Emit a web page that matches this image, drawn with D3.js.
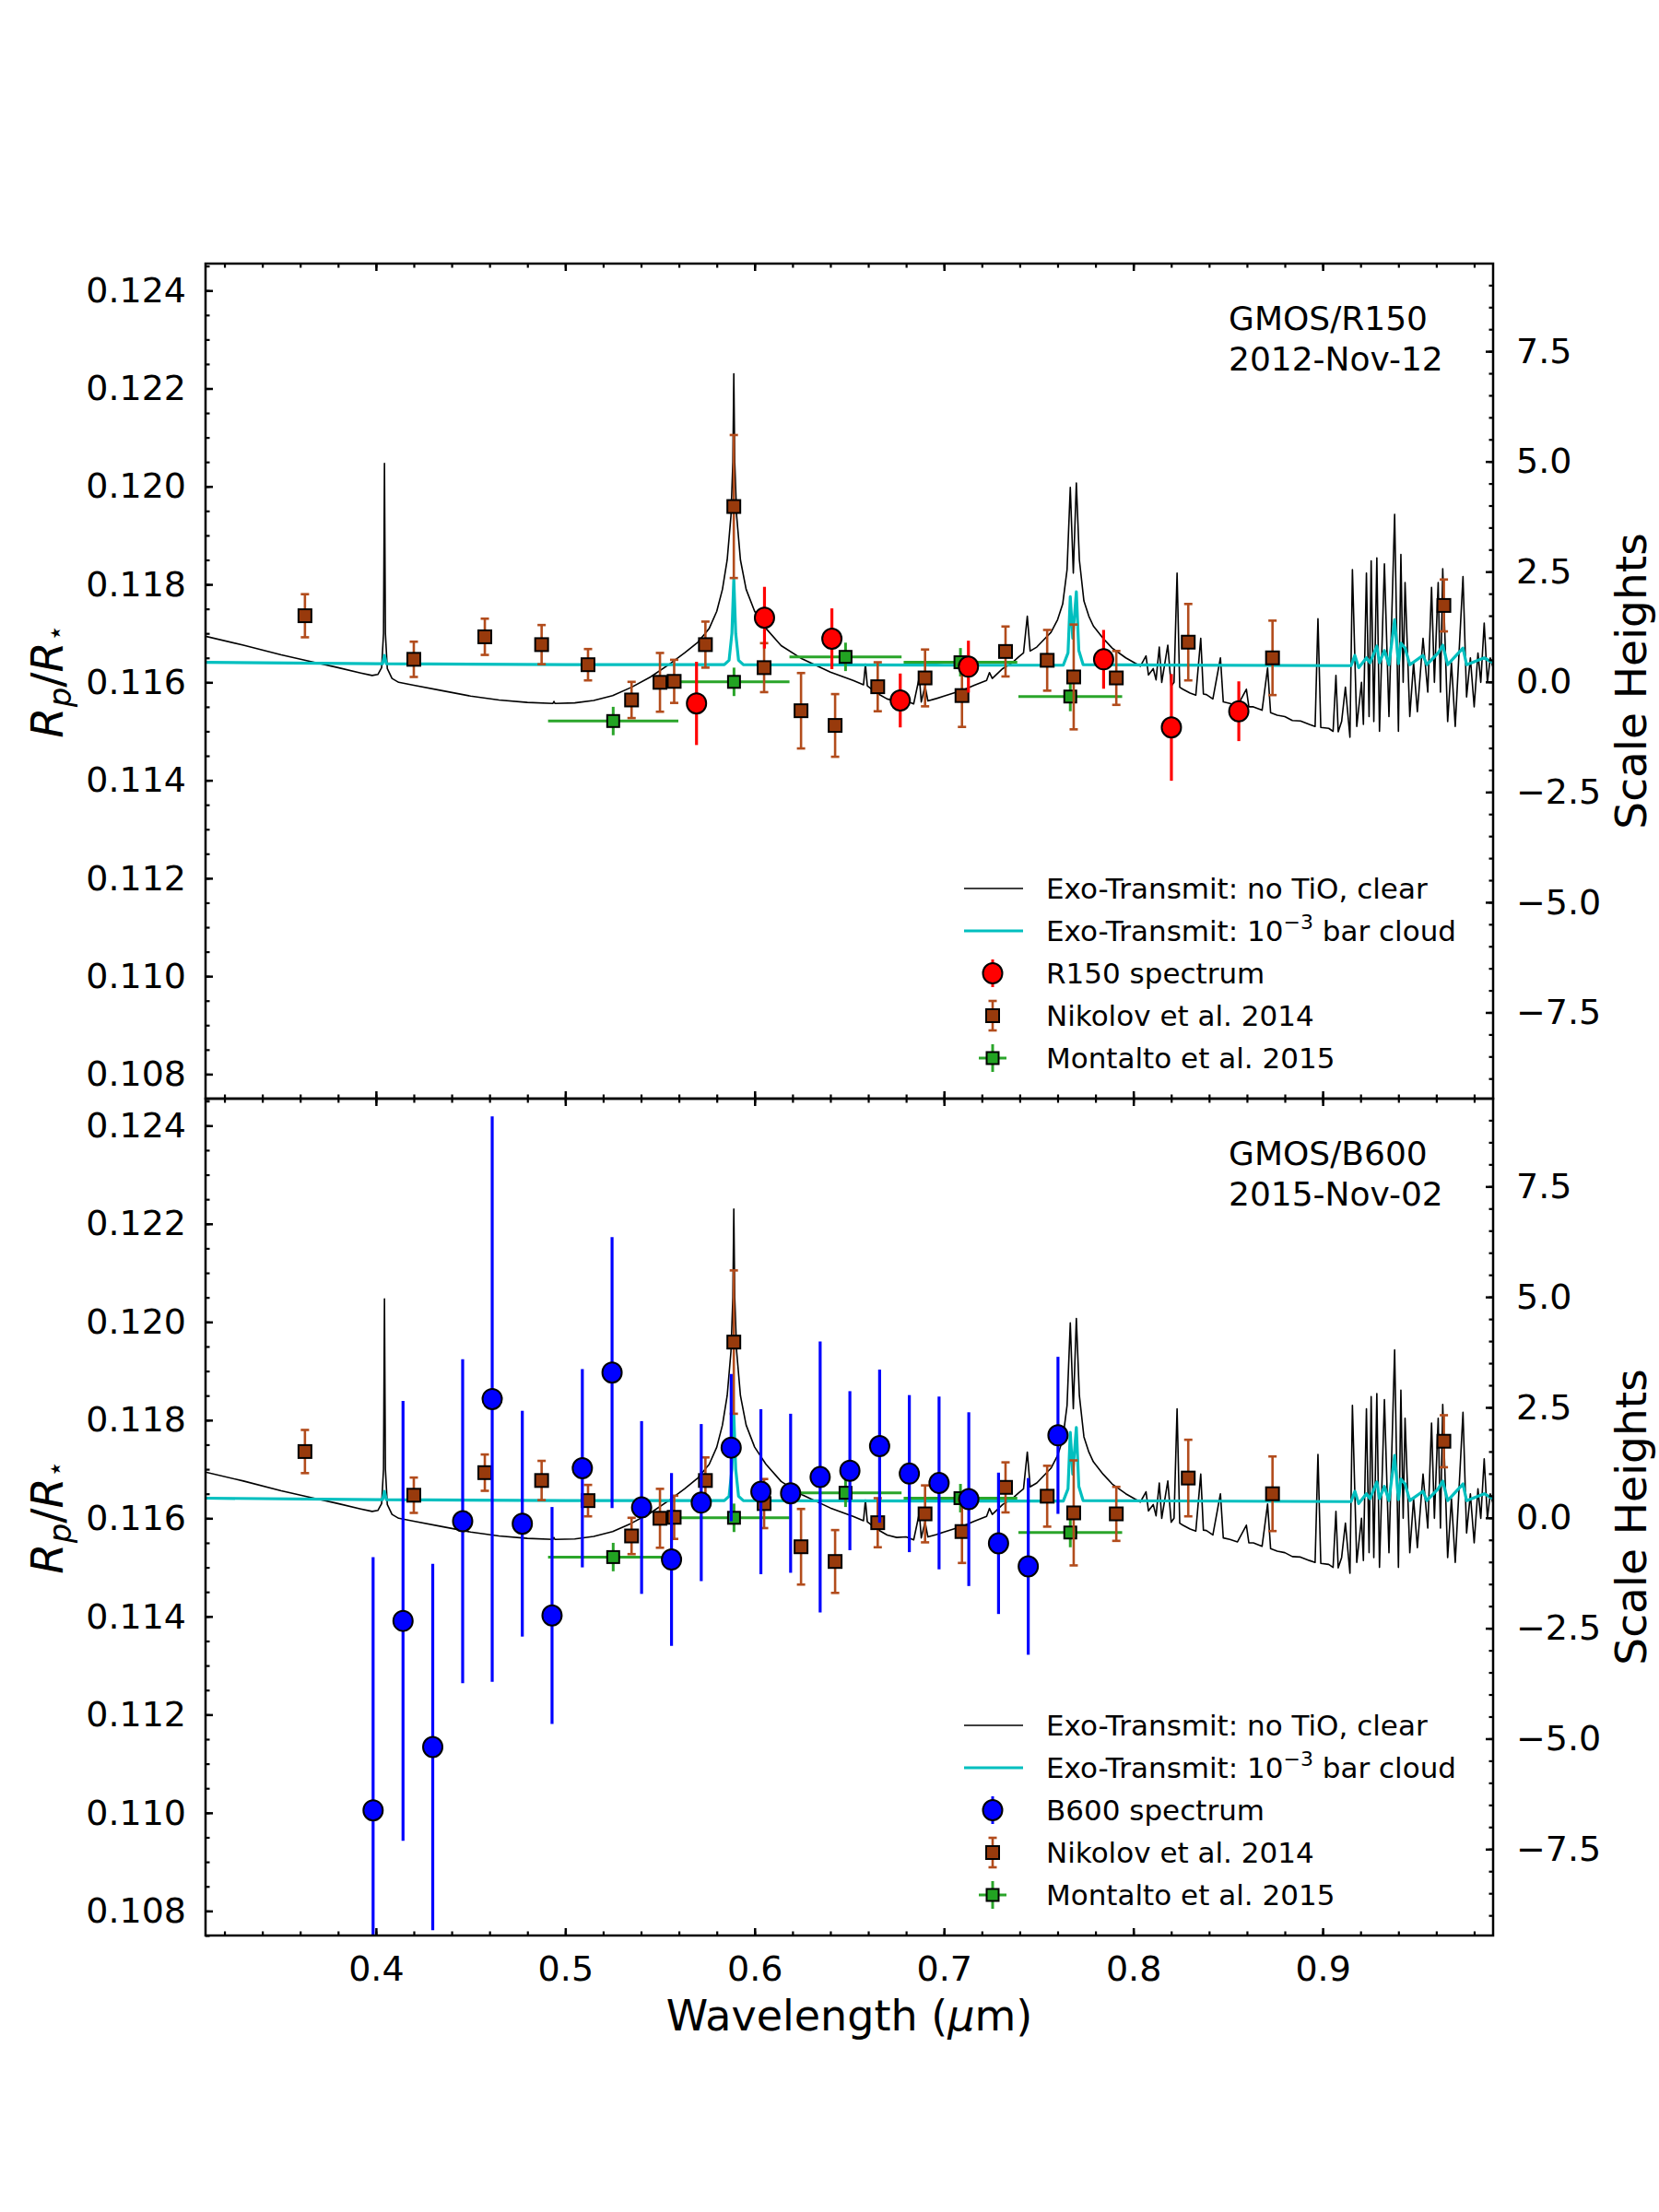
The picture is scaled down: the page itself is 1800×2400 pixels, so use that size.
<!DOCTYPE html>
<html>
<head>
<meta charset="utf-8">
<script src="https://cdn.jsdelivr.net/npm/d3@7"></script>
<style>
  body { margin: 0; background: #fff; }
  text { font-family: "DejaVu Sans", sans-serif; fill: #000; }
</style>
</head>
<body>
<svg id="chart"></svg>
<script>
// ---- data ----
// Exo-Transmit models, [wavelength (um), Rp/R*]
const clearModel = [
  [0.310,0.11694],[0.330,0.11676],[0.350,0.11656],[0.365,0.11643],[0.380,0.11630],[0.392,0.11619],
  [0.398,0.11614],[0.401,0.11616],[0.4030,0.11630],[0.4040,0.11700],[0.4045,0.12047],[0.4050,0.11700],
  [0.4060,0.11628],[0.4085,0.11608],[0.412,0.11600],[0.420,0.11594],[0.435,0.11583],[0.450,0.11572],
  [0.465,0.11564],[0.480,0.11559],[0.4935,0.11557],[0.4940,0.11561],[0.4945,0.11557],[0.505,0.11558],
  [0.515,0.11563],[0.525,0.11573],[0.535,0.11590],[0.545,0.11611],[0.555,0.11637],[0.563,0.11660],
  [0.570,0.11682],[0.576,0.11710],[0.580,0.11745],[0.583,0.11790],[0.5855,0.11850],[0.5875,0.11940],
  [0.5885,0.12050],[0.5890,0.12230],[0.5895,0.12050],[0.5905,0.11940],[0.5925,0.11850],[0.5955,0.11790],
  [0.600,0.11745],[0.606,0.11710],[0.614,0.11675],[0.625,0.11648],[0.640,0.11621],[0.652,0.11604],
  [0.6575,0.11595],[0.6585,0.11637],[0.6595,0.11593],[0.6645,0.11578],[0.670,0.11566],[0.675,0.11561],
  [0.680,0.11562],[0.684,0.11556],[0.687,0.11611],[0.688,0.11560],[0.690,0.11593],[0.6915,0.11562],
  [0.696,0.11567],[0.700,0.11572],[0.705,0.11578],[0.710,0.11584],[0.716,0.11594],[0.7225,0.11604],
  [0.7240,0.11620],[0.7255,0.11608],[0.731,0.11628],[0.736,0.11640],[0.7395,0.11652],[0.742,0.11660],
  [0.7440,0.11735],[0.7455,0.11664],[0.749,0.11672],[0.753,0.11688],[0.7565,0.11702],[0.760,0.11728],
  [0.7627,0.11760],[0.7650,0.11830],[0.7667,0.11998],[0.7683,0.11823],[0.7699,0.12007],[0.7715,0.11850],
  [0.7739,0.11766],[0.7765,0.11735],[0.7789,0.11715],[0.7840,0.11690],[0.7888,0.11670],[0.7960,0.11650],
  [0.8037,0.11633],[0.8067,0.11654],[0.8080,0.11615],[0.8105,0.11628],[0.8120,0.11605],[0.8137,0.11672],
  [0.8150,0.11600],[0.8182,0.11676],[0.8200,0.11592],[0.8215,0.11600],[0.8231,0.11823],[0.8245,0.11590],
  [0.8261,0.11586],[0.8300,0.11578],[0.8330,0.11574],[0.8356,0.11690],[0.8370,0.11576],[0.8386,0.11575],
  [0.8420,0.11566],[0.8460,0.11650],[0.8475,0.11560],[0.8510,0.11557],[0.8550,0.11552],[0.8597,0.11586],
  [0.8610,0.11550],[0.8634,0.11550],[0.8680,0.11543],[0.8709,0.11629],[0.8725,0.11538],[0.8760,0.11533],
  [0.8800,0.11530],[0.8840,0.11522],[0.8883,0.11521],[0.8930,0.11514],[0.8960,0.11510],[0.8975,0.11730],
  [0.8990,0.11508],[0.9032,0.11506],[0.9055,0.11500],[0.9070,0.11614],[0.9082,0.11499],[0.9100,0.11520],
  [0.9120,0.11590],[0.9144,0.11488],[0.9157,0.11830],[0.9180,0.11510],[0.9205,0.11600],[0.9215,0.11514],
  [0.9231,0.11823],[0.9245,0.11530],[0.9256,0.11848],[0.9270,0.11520],[0.9286,0.11854],[0.9300,0.11500],
  [0.9326,0.11842],[0.9350,0.11530],[0.9380,0.11943],[0.9400,0.11500],[0.9413,0.11861],[0.9425,0.11600],
  [0.9435,0.11804],[0.9460,0.11530],[0.9480,0.11640],[0.9500,0.11540],[0.9530,0.11690],[0.9555,0.11580],
  [0.9575,0.11794],[0.9590,0.11600],[0.9610,0.11804],[0.9622,0.11580],[0.9634,0.11832],[0.9660,0.11520],
  [0.9680,0.11640],[0.9700,0.11510],[0.9741,0.11816],[0.9760,0.11570],[0.9780,0.11650],[0.9800,0.11550],
  [0.9820,0.11660],[0.9835,0.11600],[0.9853,0.11721],[0.9870,0.11600],[0.9885,0.11650],[0.9900,0.11630]
];
const cloudModel = [
  [0.310,0.11641],[0.400,0.11638],[0.4035,0.11638],[0.4045,0.11655],[0.4055,0.11638],[0.500,0.11636],
  [0.584,0.11636],[0.5865,0.11645],[0.5880,0.11700],[0.5890,0.11811],[0.5900,0.11700],[0.5915,0.11645],
  [0.594,0.11636],[0.700,0.11635],[0.763,0.11635],[0.7655,0.11660],[0.7667,0.11775],[0.7680,0.11690],
  [0.7699,0.11785],[0.7712,0.11665],[0.7735,0.11636],[0.915,0.11634],[0.917,0.11655],[0.919,0.11630],
  [0.9231,0.11650],[0.925,0.11640],[0.9286,0.11674],[0.930,0.11640],[0.9326,0.11665],[0.935,0.11636],
  [0.938,0.11728],[0.940,0.11638],[0.9413,0.11680],[0.9435,0.11670],[0.946,0.11636],[0.953,0.11655],
  [0.955,0.11636],[0.961,0.11660],[0.9634,0.11676],[0.966,0.11636],[0.9741,0.11670],[0.976,0.11636],
  [0.9853,0.11650],[0.990,0.11640]
];

// GMOS R150 spectrum (2012-Nov-12)
const r150Wave = [0.5693, 0.6052, 0.6408, 0.6769, 0.7129, 0.7843, 0.8201, 0.8557];
const r150Rp   = [0.11557, 0.11732, 0.11689, 0.11563, 0.11632, 0.11647, 0.11508, 0.11541];
const r150Err  = [0.00085, 0.00063, 0.00062, 0.00055, 0.00053, 0.00060, 0.00109, 0.00061];

// GMOS B600 spectrum (2015-Nov-02)
const b600Wave = [0.3985, 0.4143, 0.4300, 0.4458, 0.4614, 0.4773, 0.4930, 0.5090, 0.5247, 0.5403, 0.5561, 0.5718,
                  0.5876, 0.6033, 0.6190, 0.6346, 0.6503, 0.6660, 0.6817, 0.6974, 0.7131, 0.7288, 0.7445, 0.7602];
const b600Rp   = [0.11005, 0.11391, 0.11134, 0.11594, 0.11843, 0.11589, 0.11402, 0.11702, 0.11897, 0.11622, 0.11516, 0.11632,
                  0.11744, 0.11654, 0.11651, 0.11684, 0.11697, 0.11747, 0.11691, 0.11672, 0.11639, 0.11549, 0.11502, 0.11769];
const b600Err  = [0.00516, 0.00448, 0.00373, 0.00330, 0.00576, 0.00230, 0.00221, 0.00202, 0.00276, 0.00176, 0.00176, 0.00160,
                  0.00150, 0.00168, 0.00162, 0.00276, 0.00162, 0.00156, 0.00160, 0.00176, 0.00177, 0.00144, 0.00180, 0.00160];

// Nikolov et al. 2014
const nikolovWave = [0.3625, 0.4200, 0.4575, 0.4875, 0.5120, 0.5350, 0.5500, 0.5575, 0.5740, 0.5890, 0.6050, 0.6245,
                     0.6425, 0.6650, 0.6900, 0.7095, 0.7325, 0.7545, 0.7685, 0.7910, 0.8290, 0.8735, 0.9640];
const nikolovRp   = [0.11736, 0.11647, 0.11693, 0.11677, 0.11636, 0.11564, 0.11600, 0.11602, 0.11677, 0.11959, 0.11630, 0.11542,
                     0.11512, 0.11591, 0.11609, 0.11573, 0.11663, 0.11645, 0.11611, 0.11609, 0.11682, 0.11650, 0.11757];
const nikolovErr  = [0.00044, 0.00036, 0.00037, 0.00040, 0.00032, 0.00037, 0.00060, 0.00044, 0.00047, 0.00146, 0.00050, 0.00077,
                     0.00064, 0.00050, 0.00058, 0.00064, 0.00051, 0.00062, 0.00107, 0.00055, 0.00078, 0.00076, 0.00053];

// Montalto et al. 2015
const montaltoWave    = [0.5253, 0.5891, 0.6480, 0.7087, 0.7667];
const montaltoWaveErr = [0.0344, 0.0293, 0.0296, 0.0300, 0.0274];
const montaltoRp      = [0.11521, 0.11601, 0.11652, 0.11641, 0.11571];
const montaltoErr     = [0.00029, 0.00029, 0.00029, 0.00029, 0.00030];

// axes
const xTicks = [0.4, 0.5, 0.6, 0.7, 0.8, 0.9];
const yTicks = [0.108, 0.110, 0.112, 0.114, 0.116, 0.118, 0.120, 0.122, 0.124];
const shTicks = [-7.5, -5.0, -2.5, 0.0, 2.5, 5.0, 7.5];
const xDomain = [0.31, 0.99];
const yDomain = [0.1075, 0.12455];
const refRp = 0.11601, scaleHeight = 0.0009;   // Rp/R* of 0 scale heights, and one H

const legendLabels = ["Exo-Transmit: no TiO, clear", "Exo-Transmit: 10", "Nikolov et al. 2014", "Montalto et al. 2015"];

const panels = [
  { top: 286, bottom: 1192, wave: r150Wave, rp: r150Rp, err: r150Err, color: "#ff0000",
    label: ["GMOS/R150", "2012-Nov-12"], specName: "R150 spectrum", xLabels: false },
  { top: 1192, bottom: 2100, wave: b600Wave, rp: b600Rp, err: b600Err, color: "#0000ff",
    label: ["GMOS/B600", "2015-Nov-02"], specName: "B600 spectrum", xLabels: true }
];

const width = 1800, height = 2400;
const left = 223, right = 1620;
const brownFill = "#983a0c", brownBar = "#b24c1c", greenFill = "#22a322", greenBar = "#2aa52a", cyan = "#00bfbf";

const svg = d3.select("#chart").attr("width", width).attr("height", height);
svg.append("rect").attr("width", width).attr("height", height).attr("fill", "white");

const x = d3.scaleLinear().domain(xDomain).range([left, right]);
const xMinor = d3.range(16, 50).map(i => +(i * 0.02).toFixed(2));
const yMinor = d3.range(215, 250).map(i => +(i * 0.0005).toFixed(4));
const shMinor = d3.range(-18, 19).map(i => i * 0.5);

function styleAxis(g, w) {
  g.select(".domain").remove();
  g.selectAll(".tick line").attr("stroke", "black").attr("stroke-width", w);
  g.selectAll(".tick text").style("font-size", "38px");
}

panels.forEach((p, idx) => {
  const y = d3.scaleLinear().domain(yDomain).range([p.bottom, p.top]);
  const sh = d3.scaleLinear().domain(yDomain.map(v => (v - refRp) / scaleHeight)).range([p.bottom, p.top]);

  const clipId = "clip" + idx;
  svg.append("clipPath").attr("id", clipId).append("rect")
    .attr("x", left).attr("y", p.top).attr("width", right - left).attr("height", p.bottom - p.top);

  const plot = svg.append("g").attr("clip-path", `url(#${clipId})`);
  const line = d3.line().x(d => x(d[0])).y(d => y(d[1]));

  plot.append("path").datum(clearModel).attr("d", line)
    .attr("fill", "none").attr("stroke", "black").attr("stroke-width", 1.6).attr("stroke-linejoin", "round");
  plot.append("path").datum(cloudModel).attr("d", line)
    .attr("fill", "none").attr("stroke", cyan).attr("stroke-width", 3.2).attr("stroke-linejoin", "round");

  // Montalto: x and y error bars
  montaltoWave.forEach((w, i) => {
    plot.append("line").attr("x1", x(w - montaltoWaveErr[i])).attr("x2", x(w + montaltoWaveErr[i]))
      .attr("y1", y(montaltoRp[i])).attr("y2", y(montaltoRp[i])).attr("stroke", greenBar).attr("stroke-width", 3);
    plot.append("line").attr("x1", x(w)).attr("x2", x(w))
      .attr("y1", y(montaltoRp[i] - montaltoErr[i])).attr("y2", y(montaltoRp[i] + montaltoErr[i]))
      .attr("stroke", greenBar).attr("stroke-width", 3);
  });
  plot.selectAll(".montalto").data(montaltoWave).enter().append("rect")
    .attr("x", d => x(d) - 6.5).attr("y", (d, i) => y(montaltoRp[i]) - 6.5)
    .attr("width", 13).attr("height", 13)
    .attr("fill", greenFill).attr("stroke", "black").attr("stroke-width", 2);

  // Nikolov: capped error bars
  nikolovWave.forEach((w, i) => {
    const y1 = y(nikolovRp[i] - nikolovErr[i]), y2 = y(nikolovRp[i] + nikolovErr[i]);
    plot.append("line").attr("x1", x(w)).attr("x2", x(w)).attr("y1", y1).attr("y2", y2)
      .attr("stroke", brownBar).attr("stroke-width", 2.6);
    [y1, y2].forEach(yc => plot.append("line").attr("x1", x(w) - 4.5).attr("x2", x(w) + 4.5)
      .attr("y1", yc).attr("y2", yc).attr("stroke", brownBar).attr("stroke-width", 2.6));
  });
  plot.selectAll(".nikolov").data(nikolovWave).enter().append("rect")
    .attr("x", d => x(d) - 7).attr("y", (d, i) => y(nikolovRp[i]) - 7)
    .attr("width", 14).attr("height", 14)
    .attr("fill", brownFill).attr("stroke", "black").attr("stroke-width", 2);

  // GMOS spectrum
  p.wave.forEach((w, i) => {
    plot.append("line").attr("x1", x(w)).attr("x2", x(w))
      .attr("y1", y(p.rp[i] - p.err[i])).attr("y2", y(p.rp[i] + p.err[i]))
      .attr("stroke", p.color).attr("stroke-width", 3.2);
  });
  plot.selectAll(".spec").data(p.wave).enter().append("ellipse")
    .attr("cx", d => x(d)).attr("cy", (d, i) => y(p.rp[i]))
    .attr("rx", 10.5).attr("ry", 11)
    .attr("fill", p.color).attr("stroke", "black").attr("stroke-width", 2);

  // axes, ticks pointing inward
  const gl = svg.append("g").attr("transform", `translate(${left},0)`)
    .call(d3.axisLeft(y).tickValues(yTicks).tickFormat(d3.format(".3f")).tickSize(-8).tickPadding(21));
  styleAxis(gl, 2.5);
  const glm = svg.append("g").attr("transform", `translate(${left},0)`)
    .call(d3.axisLeft(y).tickValues(yMinor).tickFormat("").tickSize(-4.5));
  styleAxis(glm, 2.2);

  const gr = svg.append("g").attr("transform", `translate(${right},0)`)
    .call(d3.axisRight(sh).tickValues(shTicks).tickFormat(d3.format(".1f")).tickSize(-8).tickPadding(25));
  styleAxis(gr, 2.5);
  const grm = svg.append("g").attr("transform", `translate(${right},0)`)
    .call(d3.axisRight(sh).tickValues(shMinor).tickFormat("").tickSize(-4.5));
  styleAxis(grm, 2.2);

  [[d3.axisTop, p.top], [d3.axisBottom, p.bottom]].forEach(([ax, yy]) => {
    const showLabels = ax === d3.axisBottom && p.xLabels;
    const gx = svg.append("g").attr("transform", `translate(0,${yy})`)
      .call(ax(x).tickValues(xTicks).tickFormat(showLabels ? d3.format(".1f") : "").tickSize(-8).tickPadding(22));
    styleAxis(gx, 2.5);
    const gxm = svg.append("g").attr("transform", `translate(0,${yy})`)
      .call(ax(x).tickValues(xMinor).tickFormat("").tickSize(-4.5));
    styleAxis(gxm, 2.2);
  });

  // frame
  svg.append("rect").attr("x", left).attr("y", p.top).attr("width", right - left).attr("height", p.bottom - p.top)
    .attr("fill", "none").attr("stroke", "black").attr("stroke-width", 2.5);

  // instrument annotation
  p.label.forEach((t, i) => {
    svg.append("text").attr("x", 1333).attr("y", p.top + 72 + i * 43.5)
      .style("font-size", "36px").text(t);
  });

  // axis labels
  const cy = (p.top + p.bottom) / 2;
  const yl = svg.append("text").attr("transform", `translate(68,${cy}) rotate(-90)`)
    .attr("text-anchor", "middle").style("font-size", "48px");
  yl.append("tspan").style("font-style", "italic").text("R");
  yl.append("tspan").style("font-style", "italic").style("font-size", "34px").attr("dy", 9).text("p");
  yl.append("tspan").attr("dy", -9).text("/");
  yl.append("tspan").style("font-style", "italic").text("R");
  yl.append("tspan").style("font-size", "30px").attr("dy", 2).text("\u22c6");

  svg.append("text").attr("transform", `translate(1786,${cy}) rotate(-90)`)
    .attr("text-anchor", "middle").style("font-size", "47px").text("Scale Heights");

  // legend
  const lx0 = 1046, lx1 = 1110, mx = 1077, tx = 1135;
  const rowY = i => p.bottom - 44 - (4 - i) * 46;
  const leg = svg.append("g");
  leg.append("line").attr("x1", lx0).attr("x2", lx1).attr("y1", rowY(0)).attr("y2", rowY(0))
    .attr("stroke", "black").attr("stroke-width", 1.6);
  leg.append("line").attr("x1", lx0).attr("x2", lx1).attr("y1", rowY(1)).attr("y2", rowY(1))
    .attr("stroke", cyan).attr("stroke-width", 3.2);
  // spectrum handle
  leg.append("line").attr("x1", mx).attr("x2", mx).attr("y1", rowY(2) - 15).attr("y2", rowY(2) + 15)
    .attr("stroke", p.color).attr("stroke-width", 3);
  leg.append("ellipse").attr("cx", mx).attr("cy", rowY(2)).attr("rx", 10.5).attr("ry", 11)
    .attr("fill", p.color).attr("stroke", "black").attr("stroke-width", 2);
  // Nikolov handle
  leg.append("line").attr("x1", mx).attr("x2", mx).attr("y1", rowY(3) - 16).attr("y2", rowY(3) + 16)
    .attr("stroke", brownBar).attr("stroke-width", 2.6);
  [-16, 16].forEach(o => leg.append("line").attr("x1", mx - 4.5).attr("x2", mx + 4.5)
    .attr("y1", rowY(3) + o).attr("y2", rowY(3) + o).attr("stroke", brownBar).attr("stroke-width", 2.6));
  leg.append("rect").attr("x", mx - 7).attr("y", rowY(3) - 7).attr("width", 14).attr("height", 14)
    .attr("fill", brownFill).attr("stroke", "black").attr("stroke-width", 2);
  // Montalto handle
  leg.append("line").attr("x1", mx - 15).attr("x2", mx + 15).attr("y1", rowY(4)).attr("y2", rowY(4))
    .attr("stroke", greenBar).attr("stroke-width", 3);
  leg.append("line").attr("x1", mx).attr("x2", mx).attr("y1", rowY(4) - 15).attr("y2", rowY(4) + 15)
    .attr("stroke", greenBar).attr("stroke-width", 3);
  leg.append("rect").attr("x", mx - 6.5).attr("y", rowY(4) - 6.5).attr("width", 13).attr("height", 13)
    .attr("fill", greenFill).attr("stroke", "black").attr("stroke-width", 2);

  const texts = [legendLabels[0], null, p.specName, legendLabels[2], legendLabels[3]];
  texts.forEach((t, i) => {
    const tt = leg.append("text").attr("x", tx).attr("y", rowY(i)).attr("dy", "0.36em").style("font-size", "31px");
    if (t !== null) { tt.text(t); return; }
    tt.append("tspan").text(legendLabels[1]);
    tt.append("tspan").attr("dy", -13).style("font-size", "22px").text("\u22123");
    tt.append("tspan").attr("dy", 13).text(" bar cloud");
  });
});

// x label
const xl = svg.append("text").attr("x", (left + right) / 2).attr("y", 2203)
  .attr("text-anchor", "middle").style("font-size", "46px");
xl.append("tspan").text("Wavelength (");
xl.append("tspan").style("font-style", "italic").text("\u03bc");
xl.append("tspan").text("m)");
</script>
</body>
</html>
